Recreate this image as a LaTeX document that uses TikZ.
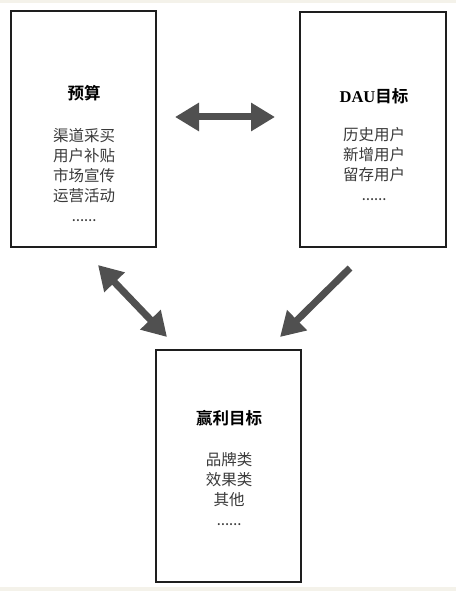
\documentclass[tikz,border=0pt]{standalone}
\usepackage{fontspec}
\newfontfamily\cjk{Noto Sans CJK SC}
\newfontfamily\cjkbold{Noto Sans CJK SC Bold}
\newfontfamily\serifb{Liberation Serif Bold}
\usetikzlibrary{arrows.meta}
\definecolor{edgebg}{HTML}{F4F2EA}
\definecolor{arrowgray}{HTML}{505050}
\definecolor{itemgray}{HTML}{3A3A3A}
\definecolor{boxline}{HTML}{1E1E1E}
\newcommand{\moredots}{{\fontsize{11pt}{20pt}\selectfont\cjkbold ……}}
\tikzset{
  panel/.style={draw=boxline, line width=2pt, fill=white, inner sep=0pt},
  title/.style={font=\fontsize{16.5pt}{20pt}\selectfont\cjkbold, text=black, inner sep=0pt},
  items/.style={font=\fontsize{15.5pt}{20pt}\selectfont\cjk, text=itemgray, align=center, inner sep=0pt},
  bigarrow/.style={draw=arrowgray, line width=7pt},
  twohead/.style={bigarrow, {Triangle[length=24pt,width=27pt]}-{Triangle[length=24pt,width=27pt]}},
  onehead/.style={bigarrow, -{Triangle[length=24pt,width=27pt]}},
}
\begin{document}
\begin{tikzpicture}[x=1pt,y=-1pt]
\useasboundingbox (0,0) rectangle (456,591);
\fill[edgebg] (0,0) rectangle (456,591);
\fill[white] (0,3) rectangle (456,587);

\node[panel, minimum width=145pt, minimum height=236pt] (A) at (83.5,129) {};
\node[panel, minimum width=146pt, minimum height=235pt] (B) at (373,129.5) {};
\node[panel, minimum width=145pt, minimum height=232pt] (C) at (228.5,466) {};

\node[title] (At) at (84,93) {预算};
\node[items] (Ai) at (84,175) {渠道采买\\用户补贴\\市场宣传\\运营活动\\\moredots};

\node[title] (Bt) at (374,96) {{\serifb DAU}目标};
\node[items] (Bi) at (374,164) {历史用户\\新增用户\\留存用户\\\moredots};

\node[title] (Ct) at (229,418) {赢利目标};
\node[items] (Ci) at (229,489) {品牌类\\效果类\\其他\\\moredots};

\coordinate (h1) at (175,117);
\coordinate (h2) at (275,117);
\coordinate (l1) at (98,265);
\coordinate (l2) at (167,337);
\coordinate (r1) at (350,268);
\coordinate (r2) at (280,337);

\draw[twohead] (h1) -- (h2);
\draw[twohead] (l1) -- (l2);
\draw[onehead] (r1) -- (r2);
\end{tikzpicture}
\end{document}
